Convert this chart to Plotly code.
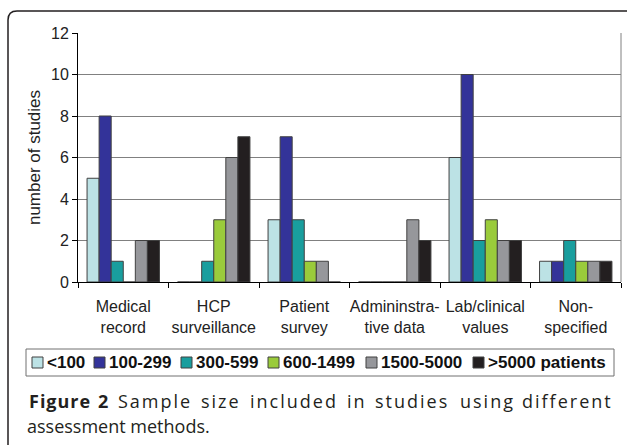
import plotly.graph_objects as go

# ---- data ----
categories = ["Medical<br>record", "HCP<br>surveillance", "Patient<br>survey",
              "Admininstra-<br>tive data", "Lab/clinical<br>values", "Non-<br>specified"]
series_names = ["<100", "100-299", "300-599", "600-1499", "1500-5000", ">5000 patients"]
size_lt100 = [5, 0, 3, 0, 6, 1]
size_100_299 = [8, 0, 7, 0, 10, 1]
size_300_599 = [1, 1, 3, 0, 2, 2]
size_600_1499 = [0, 3, 1, 0, 3, 1]
size_1500_5000 = [2, 6, 1, 3, 2, 1]
size_gt5000 = [2, 7, 0, 2, 2, 1]
series_values = [size_lt100, size_100_299, size_300_599, size_600_1499, size_1500_5000, size_gt5000]
y_ticks = [0, 2, 4, 6, 8, 10, 12]

colors = ["#BCE2E5", "#333399", "#199E9E", "#9ACB3B", "#96979B", "#231F20"]

# ---- layout helpers ----
W, H = 627, 445
ML, MR, MT, MB = 78, 6, 33, 163
SANS = "Arial, Liberation Sans, sans-serif"


def px(x):
    return (x - ML) / (W - ML - MR)


def py(y):
    return (H - MB - y) / (H - MT - MB)


fig = go.Figure()
for name, vals, col in zip(series_names, series_values, colors):
    fig.add_trace(go.Bar(x=categories, y=vals, name=name,
                         marker=dict(color=col, line=dict(color="#404040", width=1))))

shapes = []
annotations = []

# right border of plot area
shapes.append(dict(type="line", xref="paper", yref="paper", x0=1, x1=1, y0=0, y1=1,
                   line=dict(color="#808080", width=1)))

# outer frame (rounded top-left corner)
frame_path = (f"M{px(8)},{py(446)} L{px(8)},{py(20)} Q{px(8)},{py(11)} {px(17)},{py(11)} "
              f"L{px(628)},{py(11)}")
shapes.append(dict(type="path", xref="paper", yref="paper", path=frame_path,
                   line=dict(color="#231F20", width=1.5)))

# legend box
shapes.append(dict(type="rect", xref="paper", yref="paper",
                   x0=px(26), x1=px(614), y0=py(376), y1=py(349),
                   line=dict(color="#707070", width=1), fillcolor="rgba(0,0,0,0)"))
swatch_x = [32, 94, 181, 268, 366, 473]
for sx, name, col in zip(swatch_x, series_names, colors):
    shapes.append(dict(type="rect", xref="paper", yref="paper",
                       x0=px(sx), x1=px(sx + 11), y0=py(368), y1=py(357),
                       line=dict(color="#404040", width=1), fillcolor=col))
    annotations.append(dict(text=f"<b>{name}</b>", xref="paper", yref="paper", x=px(sx + 13), y=py(362.5),
                            xanchor="left", yanchor="middle", showarrow=False,
                            font=dict(family=SANS, size=17, color="#111111")))

# caption (justified first line: words placed individually, slight letter spacing)
cap_font = dict(family="Open Sans", size=18, color="#231F20")
cap_words = [("<b>Figure</b>", 27, "left", 1.0), ("<b>2</b>", 103, "center", 1.0),
             ("Sample", 155, "center", 2.0), ("size", 221, "center", 2.0),
             ("included", 294, "center", 2.0), ("in", 357, "center", 2.0),
             ("studies", 412, "center", 2.0), ("using", 487, "center", 2.0),
             ("different", 615, "right", 2.0)]
for txt, x, anc, ls in cap_words:
    annotations.append(dict(text=f'<span style="letter-spacing:{ls}px">{txt}</span>',
                            xref="paper", yref="paper", x=px(x), y=py(401), xanchor=anc,
                            yanchor="middle", showarrow=False, font=cap_font))
annotations.append(dict(text="assessment methods.", xref="paper", yref="paper", x=px(25), y=py(426),
                        xanchor="left", yanchor="middle", showarrow=False, font=cap_font))

fig.update_layout(
    width=W, height=H,
    margin=dict(l=ML, r=MR, t=MT, b=MB),
    paper_bgcolor="white", plot_bgcolor="white",
    barmode="group", bargap=0.2, bargroupgap=0,
    showlegend=False,
    font=dict(family=SANS, size=16, color="#222222"),
    xaxis=dict(showline=True, linecolor="black", linewidth=1, ticks="outside", tickson="boundaries",
               ticklen=5, tickcolor="black", showgrid=False, tickangle=0, automargin=False,
               ticklabelstandoff=10,
               tickfont=dict(family=SANS, size=16, color="#222222")),
    yaxis=dict(range=[0, 12], tickvals=y_ticks, showline=True, linecolor="black", linewidth=1,
               ticks="outside", ticklen=5, tickcolor="black", showgrid=True, gridcolor="#808080",
               gridwidth=1, zeroline=False, automargin=False,
               tickfont=dict(family=SANS, size=16, color="#222222"),
               title=dict(text="number of studies", font=dict(family=SANS, size=17, color="#222222"),
                          standoff=6)),
    shapes=shapes,
    annotations=annotations,
)

fig.write_html("out.html", config={"displayModeBar": False},
               post_script="document.body.style.margin='0';document.body.style.overflow='hidden';")
